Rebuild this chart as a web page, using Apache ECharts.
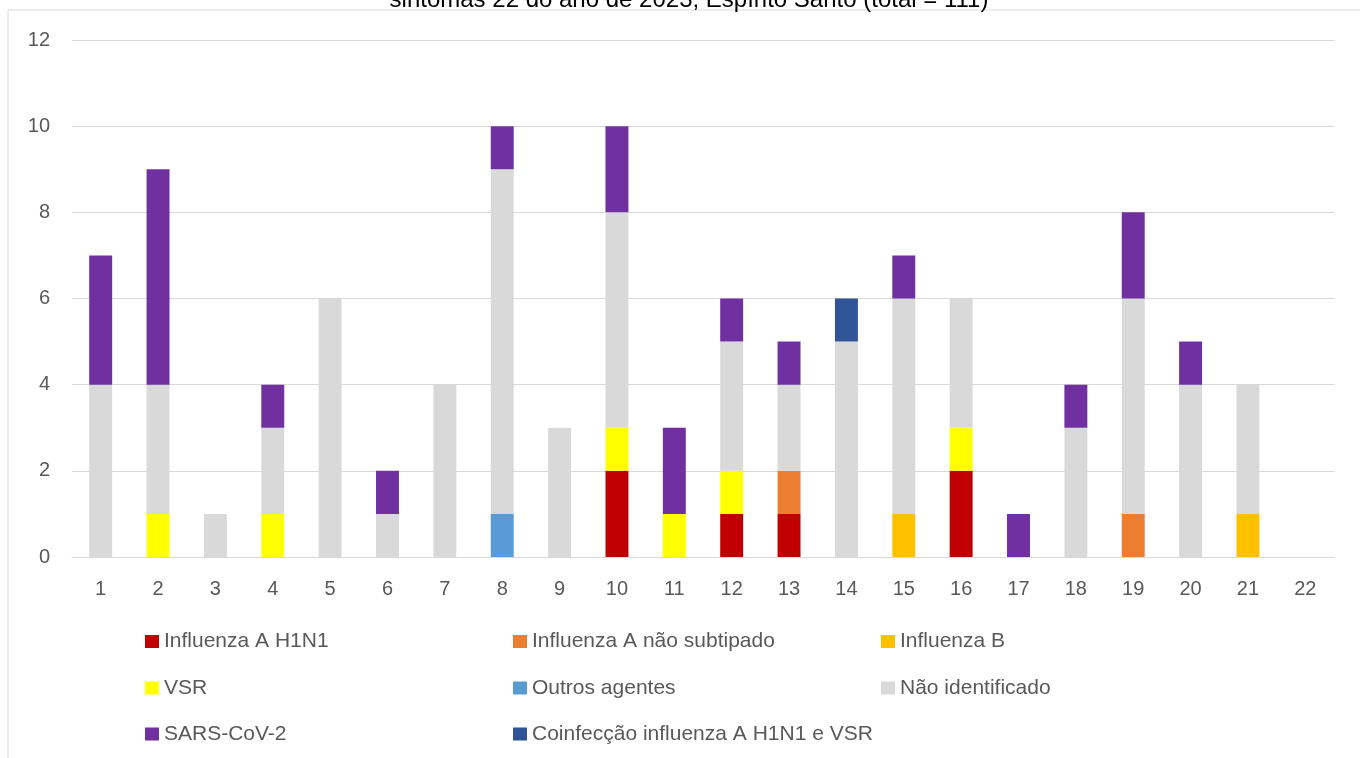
<!DOCTYPE html>
<html>
<head>
<meta charset="utf-8">
<script src="https://cdn.jsdelivr.net/npm/echarts@6/dist/echarts.min.js"></script>
<style>
html,body{margin:0;padding:0;background:#fff;}
#chart{width:1360px;height:758px;}
</style>
</head>
<body>
<div id="chart"></div>
<script>
const titleText = 'sintomas 22 do ano de 2023, Espírito Santo (total = 111)';
const weeks = ['1','2','3','4','5','6','7','8','9','10','11','12','13','14','15','16','17','18','19','20','21','22'];
const seriesNames = ['Influenza A H1N1','Influenza A não subtipado','Influenza B','VSR','Outros agentes','Não identificado','SARS-CoV-2','Coinfecção influenza A H1N1 e VSR'];
const seriesColors = ['#C00000','#ED7D31','#FFC000','#FFFF00','#5B9BD5','#D9D9D9','#7030A0','#2F5597'];
const h1n1        = [0,0,0,0,0,0,0,0,0,2,0,1,1,0,0,2,0,0,0,0,0,0];
const fluANaoSub  = [0,0,0,0,0,0,0,0,0,0,0,0,1,0,0,0,0,0,1,0,0,0];
const fluB        = [0,0,0,0,0,0,0,0,0,0,0,0,0,0,1,0,0,0,0,0,1,0];
const vsr         = [0,1,0,1,0,0,0,0,0,1,1,1,0,0,0,1,0,0,0,0,0,0];
const outros      = [0,0,0,0,0,0,0,1,0,0,0,0,0,0,0,0,0,0,0,0,0,0];
const naoIdent    = [4,3,1,2,6,1,4,8,3,5,0,3,2,5,5,3,0,3,5,4,3,0];
const sarsCov2    = [3,5,0,1,0,1,0,1,0,2,2,1,1,0,1,0,1,1,2,1,0,0];
const coinfeccao  = [0,0,0,0,0,0,0,0,0,0,0,0,0,1,0,0,0,0,0,0,0,0];
const yTicks = [0,2,4,6,8,10,12];

const seriesData = [h1n1,fluANaoSub,fluB,vsr,outros,naoIdent,sarsCov2,coinfeccao];
const FONT = '"Liberation Sans", Arial, sans-serif';

const chart = echarts.init(document.getElementById('chart'), null, {renderer:'canvas'});

const legCols = [145, 513, 881];
const legRows = [641.5, 688, 734];
const legends = seriesNames.map((name, i) => ({
  data: [name],
  left: legCols[i % 3],
  top: legRows[Math.floor(i / 3)] - 10.5,
  padding: 0,
  icon: 'rect',
  itemWidth: 14,
  itemHeight: 13,
  selectedMode: false,
  textStyle: {color:'#595959', fontSize:21, fontFamily:FONT, lineHeight:21}
}));

chart.setOption({
  animation: false,
  backgroundColor: '#ffffff',
  color: seriesColors,
  graphic: [
    {type:'rect', shape:{x:8, y:10, width:1400, height:800}, style:{fill:'none', stroke:'#D9D9D9', lineWidth:1}, silent:true},
    {type:'text', x:689, y:12, style:{text:titleText, fill:'#000000', font:'24px ' + FONT, textAlign:'center', textVerticalAlign:'bottom'}, silent:true}
  ],
  legend: legends,
  grid: {left:72, right:26, top:40, bottom:201, containLabel:false},
  xAxis: {
    type:'category',
    data: weeks,
    axisTick:{show:false},
    axisLine:{show:true, lineStyle:{color:'#D9D9D9', width:1}},
    axisLabel:{color:'#595959', fontSize:20, fontFamily:FONT, margin:22}
  },
  yAxis: {
    type:'value',
    min: yTicks[0],
    max: yTicks[yTicks.length-1],
    interval: 2,
    axisLine:{show:false},
    axisTick:{show:false},
    splitLine:{lineStyle:{color:'#D9D9D9', width:1}},
    axisLabel:{color:'#595959', fontSize:20, fontFamily:FONT, margin:22}
  },
  series: seriesNames.map((name, i) => ({
    name: name,
    type: 'bar',
    stack: 'total',
    barWidth: '40%',
    data: seriesData[i],
    itemStyle: {color: seriesColors[i]}
  }))
});
</script>
</body>
</html>
